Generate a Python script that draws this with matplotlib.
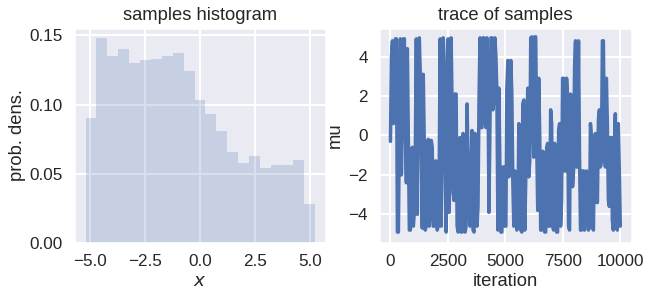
import numpy as np
import matplotlib
matplotlib.use('Agg')
import matplotlib.pyplot as plt
import seaborn as sns

# histogram of the samples: bin edges and density per bin
bin_edges = np.linspace(-5.2, 5.2, 22)
density = [0.090, 0.148, 0.135, 0.140, 0.130, 0.132, 0.133, 0.135, 0.137, 0.124,
           0.103, 0.093, 0.081, 0.066, 0.058, 0.063, 0.054, 0.056, 0.056, 0.060, 0.028]
hist_xticks = [-5.0, -2.5, 0.0, 2.5, 5.0]
hist_yticks = [0.0, 0.05, 0.10, 0.15]

# trace of mu over 10000 iterations: lowest / highest value in each ~87-iteration slice
trace_low = [-0.3, 0.6, 1.6, -4.9, -4.9, -2.0, 0.6, 0.4, -2.4, -4.8, -4.8, -4.6, -3.9, -4.0, 2.0,
             -0.6, -4.7, -4.8, -4.6, -4.6, -3.9, -4.6, -4.6, -4.8, -4.6, -4.6, 0.4, -1.6, -4.9,
             -3.9, -0.9, -2.9, -3.3, -4.6, -4.9, -4.9, -4.9, -4.9, -4.6, -3.9, -4.6, -4.8, -4.9, -4.6,
             -3.6, 0.4, 0.4, 0.8, 0.4, -3.9, 0.4, 1.3, 1.8, 2.1, -4.8, -4.9, -4.9, -4.6, -4.6,
             -2.1, -1.9, -2.4, -4.6, -4.8, -4.6, -4.8, -4.9, -4.8, -2.3, -2.1, -1.3, 1.3, -1.1, -0.4,
             -3.8, -4.8, -4.8, -4.9, -4.9, -4.6, -4.6, -4.6, -4.8, -4.9, -4.9, -4.6, -3.3, -1.8, -1.8,
             -4.6, -4.8, -2.6, -1.8, -1.6, -1.6, -4.8, -4.8, -4.8, -3.9, -4.8, -4.6, -4.6, -4.8,
             -3.4, -3.4, -1.6, -1.3, -0.8, -1.6, -3.3, -3.6, -4.3, -4.8, -4.6, -4.8, -4.6]
trace_high = [4.0, 4.8, 4.9, 4.9, 0.5, 4.9, 4.9, 4.9, 4.4, -0.4, -0.8, -0.6, -0.8, 4.9, 4.95,
              3.1, 3.1, -0.4, -0.8, -0.2, -0.25, -0.6, -1.3, -1.3, -1.9, 4.9, 4.95, 3.8, 0.4,
              4.9, 4.95, 1.3, 2.1, 2.1, -1.3, -0.1, 0.1, -1.3, 1.6, -1.3, -1.8, 0.25, 0.1, -1.3,
              1.8, 4.95, 4.95, 4.95, 4.95, 2.9, 4.95, 4.95, 4.95, 4.0, 2.4, -1.6, -1.6, -1.6, 2.4,
              3.8, 3.8, 2.1, -1.8, -1.9, 0.6, 0.4, 1.6, 1.8, 0.4, 2.4, 4.95, 5.0, 5.0, 5.0,
              2.9, 0.1, -0.8, -0.9, -0.6, -0.4, 1.3, 0.6, -0.4, -0.9, 0.25, 0.6, 2.9, 2.9, 2.9,
              1.9, 2.1, 1.9, 3.4, 4.8, 4.8, -0.9, -1.8, -1.8, -1.8, -1.9, 0.6, -0.1, -0.1,
              0.1, 0.8, 1.3, 4.8, 4.8, 2.9, 0.6, -0.1, -0.1, -0.4, 1.1, 0.6, -1.8]
n_iter = 10000
trace_xticks = [0, 2500, 5000, 7500, 10000]
trace_yticks = [-4, -2, 0, 2, 4]

sns.set_theme(style='darkgrid', context='talk')
plt.rcParams['font.family'] = ['Liberation Sans', 'DejaVu Sans']
plt.rcParams['axes.titlesize'] = 13.2
plt.rcParams['axes.labelsize'] = 13.2
plt.rcParams['xtick.labelsize'] = 12.3
plt.rcParams['ytick.labelsize'] = 12.3
plt.rcParams['xtick.major.size'] = 0
plt.rcParams['ytick.major.size'] = 0
plt.rcParams['xtick.major.pad'] = 8
plt.rcParams['ytick.major.pad'] = 8
plt.rcParams['axes.labelpad'] = 3

# zig-zag between the slice extremes so the dense trace fills like the original
seq = []
for i, (lo, hi) in enumerate(zip(trace_low, trace_high)):
    seq += [lo, hi] if i % 2 == 0 else [hi, lo]
iters = np.linspace(0, n_iter - 1, len(seq))

fig = plt.figure(figsize=(6.5, 3.01), dpi=100)
ax1 = fig.add_axes([0.114, 0.193, 0.3875, 0.714])
ax2 = fig.add_axes([0.583, 0.193, 0.389, 0.714])

ax1.hist(bin_edges[:-1], bins=bin_edges, weights=density, color='#4C72B0', alpha=0.22, linewidth=0)
ax1.set_title('samples histogram')
ax1.set_xlabel('$x$')
ax1.set_ylabel('prob. dens.')
ax1.set_xticks(hist_xticks)
ax1.set_yticks(hist_yticks)

ax2.plot(iters, seq, color='#4C72B0', linewidth=2.5)
ax2.set_ylim(-5.45, 5.45)
ax2.set_xticks(trace_xticks)
ax2.set_yticks(trace_yticks)
ax2.set_title('trace of samples')
ax2.set_xlabel('iteration')
ax2.set_ylabel('mu')

fig.savefig('out.png', dpi=100)
